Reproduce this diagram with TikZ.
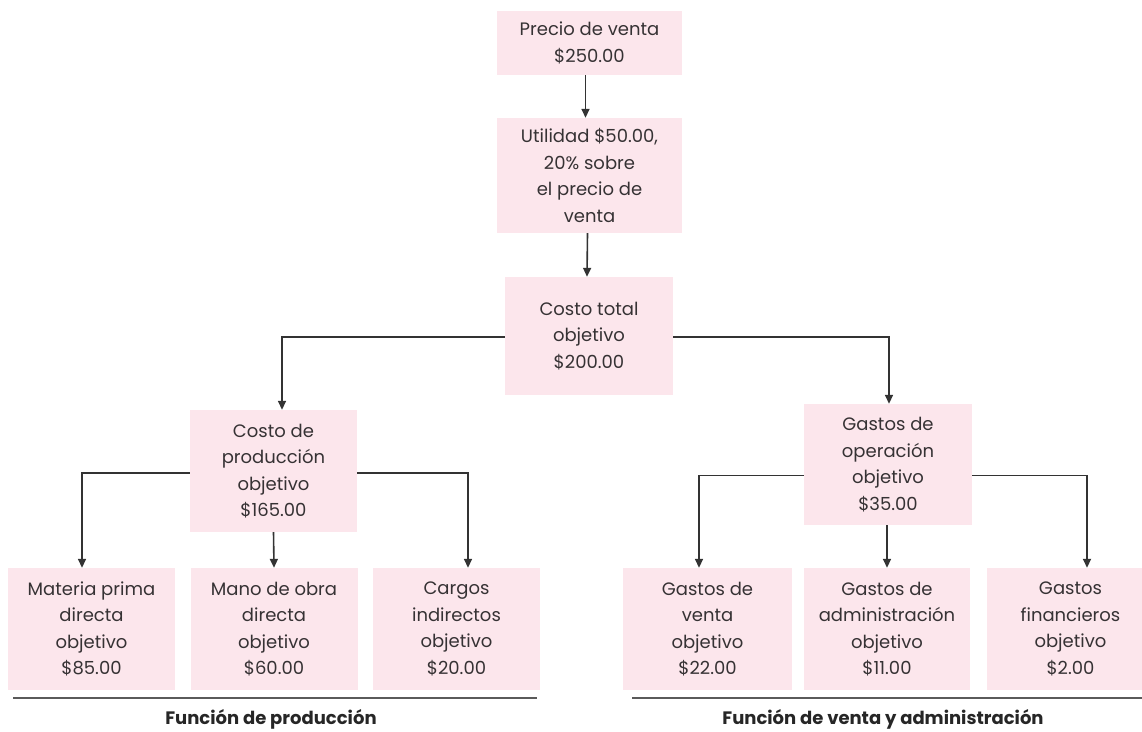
\documentclass[tikz,border=0pt]{standalone}
\usepackage{fontspec}
\setmainfont{Poppins}
\usetikzlibrary{arrows.meta}
\definecolor{boxpink}{HTML}{FCE6EC}
\definecolor{inkgray}{HTML}{363234}
\definecolor{linegray}{HTML}{333333}
\definecolor{rulegray}{HTML}{5A5A5A}
\begin{document}
\begin{tikzpicture}[x=1pt,y=-1pt,
  cbox/.style={fill=boxpink,draw=none,inner sep=0pt,align=center,text=inkgray,
    font=\fontsize{18}{26.5}\selectfont},
  arr/.style={draw=linegray,line width=1.6pt,-{Triangle[length=9pt,width=8pt]}},
  rulebar/.style={draw=rulegray,line width=2.6pt},
  funlabel/.style={text=black!85,inner sep=1pt,font=\bfseries\fontsize{18}{22}\selectfont}]
\useasboundingbox (0,0) rectangle (1142,731);
\clip (0,0) rectangle (1142,731);

% top chain
\node[cbox,minimum width=185,minimum height=64] (p) at (589.5,43) {Precio de venta\\\$250.00};
\node[cbox,minimum width=185,minimum height=115] (u) at (589.5,175.5) {Utilidad \$50.00,\\20\% sobre\\el precio de\\venta};
\node[cbox,minimum width=168,minimum height=118] (c) at (589,336) {Costo total\\objetivo\\\$200.00};

% second level
\node[cbox,minimum width=167,minimum height=122] (cp) at (273.5,471) {Costo de\\producción\\objetivo\\\$165.00};
\node[cbox,minimum width=168,minimum height=121] (go) at (888,464.5) {Gastos de\\operación\\objetivo\\\$35.00};

% bottom level
\node[cbox,minimum width=167,minimum height=122] (b1) at (91.5,629) {Materia prima\\directa\\objetivo\\\$85.00};
\node[cbox,minimum width=167,minimum height=122] (b2) at (274,629) {Mano de obra\\directa\\objetivo\\\$60.00};
\node[cbox,minimum width=167,minimum height=122] (b3) at (456.5,629) {Cargos\\indirectos\\objetivo\\\$20.00};
\node[cbox,minimum width=169,minimum height=122] (b4) at (707.5,629) {Gastos de\\venta\\objetivo\\\$22.00};
\node[cbox,minimum width=166,minimum height=122] (b5) at (887,629) {Gastos de\\administración\\objetivo\\\$11.00};
\node[cbox,minimum width=167,minimum height=122] (b6) at (1070.5,629) {Gastos\\financieros\\objetivo\\\$2.00};

% connectors
\draw[arr] ([xshift=-4]p.south) -- ([xshift=-4]u.north);
\draw[arr] ([xshift=-2]u.south) -- ([xshift=-2]c.north);
\draw[arr] ([yshift=-1]c.west) -| ([xshift=8.5]cp.north);
\draw[arr] ([yshift=-1]c.east) -| ([xshift=1]go.north);
\draw[arr] ([yshift=-2]cp.west) -| ([xshift=-9.5]b1.north);
\draw[arr] (cp.south) -- (b2.north);
\draw[arr] ([yshift=-2]cp.east) -| ([xshift=11.5]b3.north);
\draw[arr] ([yshift=-11]go.west) -| ([xshift=-8.5]b4.north);
\draw[arr] ([xshift=-1]go.south) -- (b5.north);
\draw[arr] ([yshift=-11]go.east) -| ([xshift=16.5]b6.north);

% function groups
\draw[rulebar] (13,698) -- (537,698);
\draw[rulebar] (632,698) -- (1142,698);
\node[funlabel] (fp) at (271,719.5) {Función de producción};
\node[funlabel] (fv) at (883,719.5) {Función de venta y administración};
\end{tikzpicture}
\end{document}
